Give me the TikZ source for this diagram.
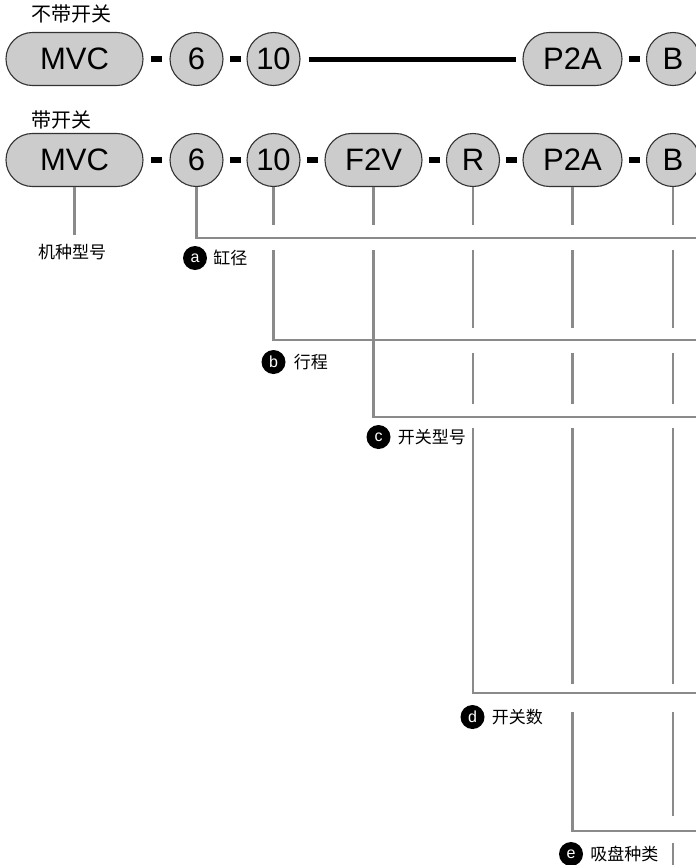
\documentclass[tikz,border=0pt]{standalone}
\usepackage{fontspec}
\setmainfont{Liberation Sans}
\newfontfamily\cjk{Noto Sans CJK SC}
\definecolor{fillc}{HTML}{CCCCCC}
\definecolor{edgec}{HTML}{333333}
\definecolor{leadc}{HTML}{8A8A8A}
\begin{document}
\begin{tikzpicture}[x=1pt,y=-1pt,
  part/.style={draw=edgec, line width=1.1pt, fill=fillc, inner sep=0pt,
    font=\fontsize{31}{31}\selectfont, minimum height=53pt},
  pill/.style={part, rectangle, rounded corners=26.4pt, minimum width=#1},
  circ/.style={part, circle, minimum size=53pt},
  dashbar/.style={fill=black, draw=none, inner sep=0pt, minimum width=11pt, minimum height=6pt},
  lead/.style={draw=leadc, line width=2.3pt},
  bubble/.style={circle, fill=black, text=white, inner sep=0pt, minimum size=24pt,
    font=\fontsize{16}{16}\selectfont},
  lbl/.style={font=\cjk\fontsize{17}{17}\selectfont, inner sep=0pt, anchor=west},
  title/.style={font=\cjk\fontsize{20}{20}\selectfont, inner sep=0pt, anchor=west}]
\useasboundingbox[fill=white] (0,0) rectangle (696,865);

% titles
\node[title] (t1) at (31,14) {不带开关};
\node[title] (t2) at (31,120) {带开关};

% row 1
\node[pill=137pt] (amvc) at (74.5,59) {MVC};
\node[circ] (a6) at (196.5,59) {6};
\node[circ] (a10) at (273.5,59) {10};
\node[pill=99pt] (ap) at (572.5,59) {P2A};
\node[circ] (ab) at (673,59) {B};
\path (amvc.east) -- (a6.west) node[dashbar, midway] (ad1) {};
\path (a6.east) -- (a10.west) node[dashbar, midway] (ad2) {};
\path (ap.east) -- (ab.west) node[dashbar, midway] (ad3) {};
\draw[line width=5pt, shorten <=8pt, shorten >=6pt] (a10.east) -- (ap.west);

% row 2
\node[pill=137pt] (bmvc) at (74.5,160) {MVC};
\node[circ] (b6) at (196.5,160) {6};
\node[circ] (b10) at (273.5,160) {10};
\node[pill=97pt] (bf) at (373.5,160) {F2V};
\node[circ] (br) at (473,160) {R};
\node[pill=99pt] (bp) at (572.5,160) {P2A};
\node[circ] (bb) at (673,160) {B};
\path (bmvc.east) -- (b6.west) node[dashbar, midway] (bd1) {};
\path (b6.east) -- (b10.west) node[dashbar, midway] (bd2) {};
\path (b10.east) -- (bf.west) node[dashbar, midway] (bd3) {};
\path (bf.east) -- (br.west) node[dashbar, midway] (bd4) {};
\path (br.east) -- (bp.west) node[dashbar, midway] (bd5) {};
\path (bp.east) -- (bb.west) node[dashbar, midway] (bd6) {};

% level coordinates
\coordinate (ea) at (700,238);
\coordinate (eb) at (700,340);
\coordinate (ec) at (700,417);
\coordinate (ed) at (700,693);
\coordinate (ee) at (700,831);
\coordinate (aU) at (0,225); \coordinate (aD) at (0,250);
\coordinate (bU) at (0,328); \coordinate (bD) at (0,353);
\coordinate (cU) at (0,404); \coordinate (cD) at (0,428);
\coordinate (dU) at (0,684); \coordinate (dD) at (0,712);
\coordinate (eU) at (0,816); \coordinate (eD) at (0,843);
\coordinate (bot) at (0,868);
\coordinate (mvcend) at (74.5,235);

% leads
\draw[lead] (bmvc.south) -- (mvcend);
\node[lbl, anchor=center] (lmvc) at (72,252) {机种型号};

\draw[lead] (b6.south) |- (ea);
\draw[lead] (b10.south) -- (b10 |- aU) (b10 |- aD) |- (eb);
\draw[lead] (bf.south) -- (bf |- aU) (bf |- aD) |- (ec);
\draw[lead] (br.south) -- (br |- aU) (br |- aD) -- (br |- bU)
  (br |- bD) -- (br |- cU) (br |- cD) |- (ed);
\draw[lead] (bp.south) -- (bp |- aU) (bp |- aD) -- (bp |- bU)
  (bp |- bD) -- (bp |- cU) (bp |- cD) -- (bp |- dU) (bp |- dD) |- (ee);
\draw[lead] (bb.south) -- (bb |- aU) (bb |- aD) -- (bb |- bU)
  (bb |- bD) -- (bb |- cU) (bb |- cD) -- (bb |- dU) (bb |- dD) -- (bb |- eU)
  (bb |- eD) -- (bb |- bot);

% labels
\node[bubble] (qa) at (195,258) {a};
\node[lbl] (la) at ([xshift=6pt]qa.east) {缸径};
\node[bubble] (qb) at (273.5,362) {b};
\node[lbl] (lb) at ([xshift=8pt]qb.east) {行程};
\node[bubble] (qc) at (378.5,437) {c};
\node[lbl] (lc) at ([xshift=7pt]qc.east) {开关型号};
\node[bubble] (qd) at (472.5,717) {d};
\node[lbl] (ld) at ([xshift=7pt]qd.east) {开关数};
\node[bubble] (qe) at (571,854) {e};
\node[lbl] (le) at ([xshift=7pt]qe.east) {吸盘种类};
\end{tikzpicture}
\end{document}
